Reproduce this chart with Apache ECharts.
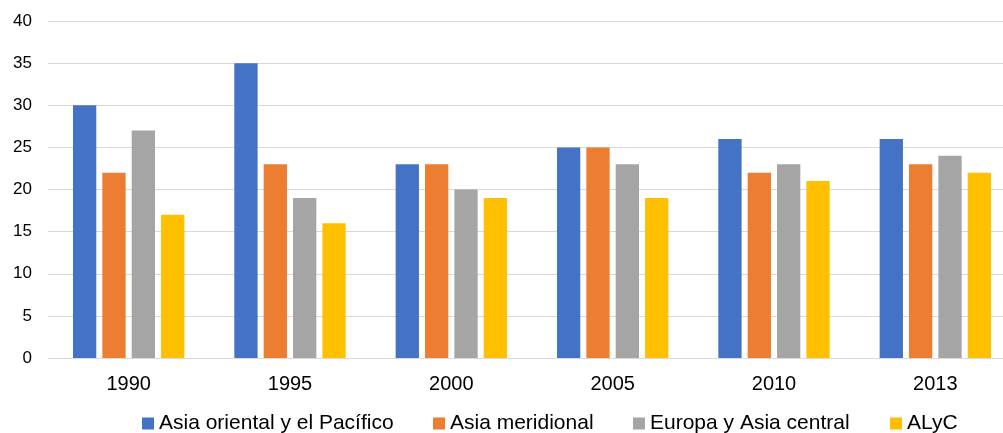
<!DOCTYPE html>
<html>
<head>
<meta charset="utf-8">
<script src="https://cdn.jsdelivr.net/npm/echarts@6/dist/echarts.min.js"></script>
<style>
  html, body { margin: 0; padding: 0; background: #fff; }
  #chart { width: 1003px; height: 433px; }
</style>
</head>
<body>
<div id="chart"></div>
<script>
// Years on the category axis
var years = ['1990', '1995', '2000', '2005', '2010', '2013'];

// Values per region
var asiaOriental = [30, 35, 23, 25, 26, 26];
var asiaMeridional = [22, 23, 23, 25, 22, 23];
var europaAsiaCentral = [27, 19, 20, 23, 23, 24];
var alyc = [17, 16, 19, 19, 21, 22];

// Y axis tick labels
var yTicks = [0, 5, 10, 15, 20, 25, 30, 35, 40];

var seriesDefs = [
  { name: 'Asia oriental y el Pacífico', data: asiaOriental, color: '#4472C4' },
  { name: 'Asia meridional', data: asiaMeridional, color: '#ED7D31' },
  { name: 'Europa y Asia central', data: europaAsiaCentral, color: '#A5A5A5' },
  { name: 'ALyC', data: alyc, color: '#FFC000' }
];

// Left edge of each legend entry along the bottom row
var legendLefts = [142, 433, 633, 890];

var font = 'Liberation Sans, Arial, sans-serif';
var chart = echarts.init(document.getElementById('chart'), null, { renderer: 'canvas' });

chart.setOption({
  animation: false,
  backgroundColor: '#ffffff',
  grid: {
    left: 48,
    top: 21,
    width: 968,
    height: 337,
    containLabel: false,
    outerBoundsMode: 'none'
  },
  legend: seriesDefs.map(function (s, i) {
    return {
      left: legendLefts[i],
      top: 413,
      padding: 0,
      itemWidth: 12,
      itemHeight: 12,
      icon: 'rect',
      textStyle: { fontFamily: font, fontSize: 21, color: '#000' },
      data: [s.name]
    };
  }),
  xAxis: {
    type: 'category',
    data: years,
    axisLine: { lineStyle: { color: '#d9d9d9', width: 1 } },
    axisTick: { show: false },
    axisLabel: { fontFamily: font, fontSize: 20, color: '#000', margin: 16 }
  },
  yAxis: {
    type: 'value',
    min: yTicks[0],
    max: yTicks[yTicks.length - 1],
    interval: yTicks[1] - yTicks[0],
    axisLine: { show: false },
    axisTick: { show: false },
    splitLine: { lineStyle: { color: '#d9d9d9', width: 1 } },
    axisLabel: { fontFamily: font, fontSize: 17, color: '#000', margin: 16 }
  },
  series: seriesDefs.map(function (s) {
    return {
      name: s.name,
      type: 'bar',
      data: s.data,
      barWidth: 23.3,
      barGap: '26%',
      itemStyle: { color: s.color }
    };
  })
});
</script>
</body>
</html>
